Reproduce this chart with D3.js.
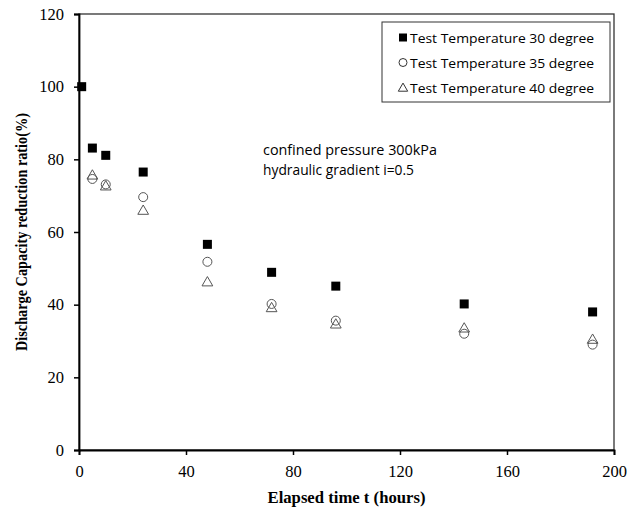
<!DOCTYPE html>
<html>
<head>
<meta charset="utf-8">
<script src="https://cdn.jsdelivr.net/npm/d3@7"></script>
<style>
    body { margin: 0; background: #fff; }
</style>
</head>
<body>
<div id="chart"></div>
<script>
// hours
var time30 = [1, 5, 10, 24, 48, 72, 96, 144, 192];
var ratio30 = [100, 83.1, 81.1, 76.5, 56.6, 48.9, 45.1, 40.2, 38];
var time35 = [5, 10, 24, 48, 72, 96, 144, 192];
var ratio35 = [74.6, 73.1, 69.6, 51.8, 40.2, 35.6, 32, 29];
var time40 = [5, 10, 24, 48, 72, 96, 144, 192];
var ratio40 = [75.7, 72.7, 66, 46.3, 39.2, 34.7, 33.6, 30.5];

var legendLabels = ["Test Temperature 30 degree", "Test Temperature 35 degree", "Test Temperature 40 degree"];
var noteLines = ["confined pressure 300kPa", "hydraulic gradient i=0.5"];
var xTicks = [0, 40, 80, 120, 160, 200];
var yTicks = [0, 20, 40, 60, 80, 100, 120];

var w = 638;
var h = 509;
var plotL = 79, plotR = 614, plotT = 14, plotB = 450;

var svg = d3.select("#chart")
    .append("svg")
    .attr("width", w)
    .attr("height", h);

var x = d3.scaleLinear().domain([0, 200]).range([plotL, plotR]);
var y = d3.scaleLinear().domain([0, 120]).range([plotB, plotT]);

// plot frame
svg.append("rect")
    .attr("x", plotL)
    .attr("y", plotT)
    .attr("width", plotR - plotL)
    .attr("height", plotB - plotT)
    .attr("fill", "none")
    .attr("stroke", "#333")
    .attr("stroke-width", 1.3);

var xAxis = svg.append("g")
    .attr("transform", "translate(0," + plotB + ")")
    .call(d3.axisBottom(x).tickValues(xTicks).tickSize(5).tickPadding(10));

var yAxis = svg.append("g")
    .attr("transform", "translate(" + plotL + ",0)")
    .call(d3.axisLeft(y).tickValues(yTicks).tickSize(5).tickPadding(10));

[xAxis, yAxis].forEach(function (g) {
    g.select(".domain").attr("stroke", "#000").attr("stroke-width", 1.8);
    g.selectAll(".tick line").attr("stroke", "#000").attr("stroke-width", 1.5);
    g.selectAll(".tick text")
        .attr("fill", "#000")
        .style("font-family", "'Liberation Serif', 'Times New Roman', serif")
        .style("font-size", "16.5px");
});

// axis titles
svg.append("text")
    .attr("x", (plotL + plotR) / 2)
    .attr("y", 503)
    .attr("text-anchor", "middle")
    .style("font-family", "'Liberation Serif', 'Times New Roman', serif")
    .style("font-weight", "bold")
    .style("font-size", "16px")
    .attr("textLength", 158)
    .attr("lengthAdjust", "spacingAndGlyphs")
    .text("Elapsed time t (hours)");

svg.append("text")
    .attr("transform", "translate(27," + ((plotT + plotB) / 2) + ") rotate(-90)")
    .attr("text-anchor", "middle")
    .style("font-family", "'Liberation Serif', 'Times New Roman', serif")
    .style("font-weight", "bold")
    .style("font-size", "16px")
    .attr("textLength", 238)
    .attr("lengthAdjust", "spacingAndGlyphs")
    .text("Discharge Capacity reduction ratio(%)");

// markers
var sq = 9;
var pts30 = time30.map(function (t, i) { return [t, ratio30[i]]; });
var pts35 = time35.map(function (t, i) { return [t, ratio35[i]]; });
var pts40 = time40.map(function (t, i) { return [t, ratio40[i]]; });

var triangle = d3.symbol().type(d3.symbolTriangle).size(50);

var marks = svg.append("g");

marks.selectAll(".c35")
    .data(pts35)
    .enter()
    .append("circle")
    .attr("cx", function (d) { return x(d[0]); })
    .attr("cy", function (d) { return y(d[1]); })
    .attr("r", 4.5)
    .attr("fill", "none")
    .attr("stroke", "#555")
    .attr("stroke-width", 1);

marks.selectAll(".t40")
    .data(pts40)
    .enter()
    .append("path")
    .attr("d", triangle())
    .attr("transform", function (d) { return "translate(" + x(d[0]) + "," + (y(d[1]) + 1) + ")"; })
    .attr("fill", "none")
    .attr("stroke", "#555")
    .attr("stroke-width", 1);

marks.selectAll(".s30")
    .data(pts30)
    .enter()
    .append("rect")
    .attr("x", function (d) { return x(d[0]) - sq / 2; })
    .attr("y", function (d) { return y(d[1]) - sq / 2; })
    .attr("width", sq)
    .attr("height", sq)
    .attr("fill", "#000");

// legend
var legend = svg.append("g");
legend.append("rect")
    .attr("x", 382)
    .attr("y", 22)
    .attr("width", 228)
    .attr("height", 80)
    .attr("fill", "#fff")
    .attr("stroke", "#333")
    .attr("stroke-width", 1);

legendLabels.forEach(function (label, i) {
    var ly = 37.5 + i * 25;
    var gi = legend.append("g");
    if (i == 0) {
        gi.append("rect").attr("x", 399).attr("y", ly - 4).attr("width", 8).attr("height", 8).attr("fill", "#000");
    } else if (i == 1) {
        gi.append("circle").attr("cx", 403).attr("cy", ly).attr("r", 4).attr("fill", "none").attr("stroke", "#333");
    } else {
        gi.append("path").attr("d", d3.symbol().type(d3.symbolTriangle).size(38)())
            .attr("transform", "translate(403," + (ly + 1) + ")")
            .attr("fill", "none").attr("stroke", "#333");
    }
    gi.append("text")
        .attr("x", 410)
        .attr("y", ly + 5)
        .style("font-family", "'Open Sans', 'Noto Sans', sans-serif")
        .style("font-size", "13px")
        .attr("textLength", 184)
        .attr("lengthAdjust", "spacingAndGlyphs")
        .text(label);
});

// note
noteLines.forEach(function (line, i) {
    svg.append("text")
        .attr("x", 263)
        .attr("y", 155 + i * 20)
        .style("font-family", "'Open Sans', 'Noto Sans', sans-serif")
        .style("font-size", "14px")
        .attr("textLength", i == 0 ? 174 : 151)
        .attr("lengthAdjust", "spacingAndGlyphs")
        .text(line);
});
</script>
</body>
</html>
